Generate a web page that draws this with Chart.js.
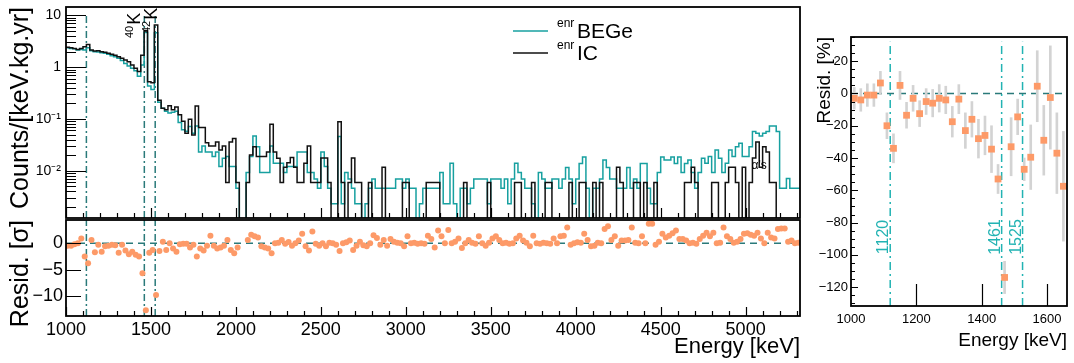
<!DOCTYPE html>
<html>
<head>
<meta charset="utf-8">
<title>enrBEGe vs enrIC spectra</title>
<script src="https://cdn.jsdelivr.net/npm/chart.js@4.4.1/dist/chart.umd.min.js"></script>
<style>
  body { margin: 0; background: #fff; }
  #wrap { position: relative; width: 1074px; height: 363px; overflow: hidden; }
  canvas { position: absolute; }
</style>
</head>
<body>
<div id="wrap">
  <canvas id="spectrum" width="806" height="219" style="left:0;top:0"></canvas>
  <canvas id="sigma" width="806" height="144" style="left:0;top:219px"></canvas>
  <canvas id="percent" width="269" height="363" style="left:805px;top:0"></canvas>
</div>
<script>
// binning of the spectra (keV)
const binStart = 1000;
const binWidth = 20;

// counts/(keV kg yr) per 20 keV bin, 1000-5320 keV
const icCounts = [
  2.41, 2.37, 2.30, 2.20, 2.30, 2.48, 2.75, 2.14, 2.05, 2.08,
  1.99, 1.93, 1.85, 1.77, 1.69, 1.59, 1.48, 1.37, 1.27, 1.10,
  0.95, 0.82, 1.70, 5.05, 0.52, 0.50, 6.5, 0.23, 0.16, 0.15,
  0.18, 0.15, 0.17, 0.12, 0.09, 0.053, 0.098, 0.049, 0.177, 0.068,
  0.068, 0.0345, 0.030, 0.030, 0.036, 0.025, 0.030, 0.0059, 0.036, 0.042,
  0.0059, 0, 0, 0.0059, 0.020, 0.029, 0.0187, 0.0187, 0.0187, 0.023,
  0.0785, 0.023, 0.0173, 0.0059, 0.0117, 0.0143, 0.018, 0.0117, 0.0059, 0.0059,
  0.0139, 0.030, 0.0059, 0.0059, 0.0059, 0.0176, 0.0176, 0.0059, 0, 0,
  0.088, 0.0059, 0, 0.0059, 0.0176, 0.0059, 0.0059, 0, 0, 0.0059,
  0, 0, 0, 0.0117, 0, 0, 0, 0, 0, 0.0059,
  0.0059, 0, 0, 0, 0, 0, 0.0059, 0.0059, 0.0059, 0.0059,
  0, 0, 0, 0, 0, 0, 0, 0.0059, 0, 0,
  0, 0, 0, 0, 0.0059, 0, 0, 0, 0, 0,
  0, 0, 0.0059, 0.0059, 0, 0, 0, 0.0059, 0, 0,
  0, 0.0059, 0.0059, 0, 0, 0, 0, 0, 0.0059, 0,
  0, 0.0059, 0.0059, 0, 0, 0.0059, 0, 0.0059, 0, 0,
  0, 0, 0.0117, 0.0059, 0, 0, 0, 0.0059, 0.0059, 0,
  0.0059, 0, 0, 0.0059, 0, 0, 0, 0, 0, 0,
  0, 0, 0.0059, 0.0059, 0.0117, 0.0059, 0, 0, 0, 0,
  0.0059, 0.0059, 0, 0, 0.0059, 0.0117, 0.0117, 0.0059, 0, 0.0117,
  0, 0.0059, 0.0176, 0.036, 0.0117, 0.029, 0.023, 0.0059, 0.0059, 0,
  0, 0, 0, 0, 0, 0
];

const begeCounts = [
  2.37, 2.30, 2.27, 2.14, 2.20, 2.14, 2.37, 2.08, 1.99, 1.96,
  1.90, 1.85, 1.77, 1.66, 1.59, 1.48, 1.35, 1.18, 1.05, 0.95,
  0.85, 0.67, 1.10, 4.69, 0.43, 0.37, 4.6, 0.21, 0.16, 0.14,
  0.13, 0.135, 0.14, 0.085, 0.062, 0.058, 0.071, 0.053, 0.073, 0.023,
  0.030, 0.023, 0.023, 0.0187, 0.023, 0.012, 0.0173, 0.0187, 0.012, 0.012,
  0.0046, 0, 0, 0.0092, 0.0187, 0.047, 0.029, 0.0092, 0.0092, 0.0092,
  0.030, 0.0139, 0.0139, 0.0139, 0.0092, 0.012, 0.012, 0.012, 0.023, 0.023,
  0.023, 0.0092, 0.0092, 0.0069, 0.0046, 0.023, 0.012, 0.0046, 0.0023, 0.0023,
  0.046, 0.0023, 0.0092, 0.0069, 0.0046, 0.0023, 0.0023, 0, 0.0023, 0.0046,
  0.0069, 0.0046, 0.0046, 0.0046, 0.0046, 0.0046, 0.0046, 0.0069, 0.0069, 0.0046,
  0.0069, 0.0046, 0.0046, 0, 0.0023, 0.0046, 0.0046, 0.0046, 0.0046, 0.0046,
  0.0092, 0.0023, 0.0023, 0.0139, 0.0023, 0, 0.0046, 0.0046, 0.0023, 0.0046,
  0.0069, 0.0069, 0.0069, 0.0069, 0.0023, 0.0069, 0.0069, 0.0069, 0.0046, 0.0069,
  0.0023, 0.0069, 0.0139, 0.0092, 0.0069, 0.0046, 0.0046, 0.0023, 0, 0.0092,
  0.0069, 0.0046, 0.0046, 0.0069, 0.0069, 0.0046, 0.0069, 0.0115, 0.0069, 0.0023,
  0.0069, 0.0138, 0.0184, 0.0046, 0, 0.0046, 0.0046, 0.0069, 0.016, 0.0115,
  0.0069, 0.0069, 0.0046, 0.0046, 0.0046, 0.0115, 0.0046, 0.0069, 0.0046, 0.0138,
  0.0138, 0.0046, 0.0023, 0.0023, 0.0092, 0.0184, 0.016, 0.016, 0.0184, 0.0138,
  0.0184, 0.0092, 0.0138, 0.016, 0.0092, 0.0046, 0.0092, 0.0173, 0.0139, 0.0187,
  0.0092, 0.025, 0.0173, 0.0092, 0.0139, 0.025, 0.0187, 0.029, 0.034, 0.0187,
  0.0187, 0.029, 0.057, 0.053, 0.047, 0.053, 0.057, 0.073, 0.073, 0.057,
  0.0046, 0.0046, 0.0071, 0.0046, 0.0046, 0.0046
];

// residuals in sigma, one per bin (null = empty bin)
const residSigma = [
  -0.5, -0.5, -0.2, 0, 0.9, -2.5, -3.8, 0.6, -1.7, -0.3,
  -1.6, -0.6, -0.5, -0.3, -0.4, -1.8, -0.3, -1.4, -2.1, -1.6,
  -2.2, -2.5, -5.7, -12.7, -1.8, -1.3, -9.8, -1.5, 0.3, -1.3,
  0, -1.0, -1.6, -0.2, -0.1, -0.1, -0.8, -0.3, -2.5, -1.0,
  -1.4, -0.5, 1.4, -0.5, -1.0, -0.8, -0.5, 0.6, -1.3, -1.9,
  -0.8, null, null, 0.6, 1.6, 1.3, 1.1, -0.6, -0.8, -1.0,
  -1.9, 0, 0.1, 0.6, -0.1, 0.25, -0.5, 0, 0.5, 1.8,
  -0.6, -1.4, 2.2, -0.1, -0.5, 0, -0.6, 0.1, 0, -0.3,
  -1.5, 0, 0.2, 0.5, -1.3, -0.5, 0.3, -0.4, -0.6, 0,
  1.5, 1.0, -0.3, 0.6, -0.5, 0.8, 0.3, 0.1, 0, -0.6,
  1.3, 0, 0.1, -0.1, 0, -0.1, 1.4, 0.8, -0.8, 2.4,
  1.3, 0, 2.5, 0, 0.3, 0.9, -0.9, 0, 0.6, 0.1,
  -0.1, 1.3, 0, -0.5, 0.1, 0.9, 1.3, 0.6, 0, 0.1,
  -0.1, 0, 0.9, 1.4, 0.5, 0.1, -0.6, 1.4, 0, -0.1,
  0.1, 0, -0.1, 0.9, 0, 1.3, 1.4, 3.0, -0.3, 0,
  0.2, 0.1, 1.8, 0.6, -0.6, -0.5, 0.1, 0, 2.7, 3.2,
  0.6, 1.3, -0.5, 0.5, 0.5, 0.6, 3.0, 0.1, 0, 1.3,
  0, 3.7, 3.7, -0.3, 0.3, 1.8, 1.1, 1.4, 1.9, 2.4,
  0.8, 0.8, 0.5, 0, 0.1, -0.1, 0.8, 1.4, 2.0, 1.3,
  2.0, 0, 0.1, 3.0, 1.3, 0.8, 0.1, 0.3, 0.8, 1.8,
  1.9, 1.6, 1.4, 2.0, 0.9, 0, 2.0, 1.1, 0.9, 2.7,
  2.8, 2.8, 0.3, 0.5, 0, 0.1
];

// gamma lines marked on the plots (keV)
const lineEnergies = [1120, 1461, 1525];

// zoomed residuals in percent
const pctEnergy = [1010, 1030, 1050, 1070, 1090, 1110, 1130, 1150, 1170, 1190, 1210,
  1230, 1250, 1270, 1290, 1310, 1330, 1350, 1370, 1390, 1410, 1430, 1450, 1470,
  1490, 1510, 1530, 1550, 1570, 1590, 1610, 1630, 1650];
const pctResid = [-3, -4, -1, -1, 6.5, -20, -34, 5, -13.5, -3, -12.5,
  -5, -6, -3, -4, -17.5, -3.5, -23, -16, -28, -26, -34.5, -53, -114,
  -33, -14.5, -47, -39.5, 4.5, -29, -2.5, -37, -57.5];
const pctErr = [6.7, 7, 7, 7, 7.2, 8, 9, 8.7, 8, 8, 8,
  8, 8.5, 8.5, 8.5, 9.5, 9, 11, 11, 12, 12, 14.5, 9, 10,
  18, 11, 7, 20, 22, 21.6, 32, 25, 34];

// tick labels
const energyTicks = [1000, 1500, 2000, 2500, 3000, 3500, 4000, 4500, 5000];
const countTicks = [0.01, 0.1, 1, 10];
const sigmaTicks = [-10, -5, 0];
const zoomEnergyTicks = [1000, 1200, 1400, 1600];
const pctTicks = [-120, -100, -80, -60, -40, -20, 0, 20];

const TEAL = '#17a0a0';
const DARK_TEAL = '#2a7a7a';
const LIGHT_TEAL = '#22b3b3';
const SALMON = '#fd9a68';
const FONT = '"Liberation Sans", Arial, Helvetica, sans-serif';
const LOG_MIN = 0.00122, LOG_MAX = 14.5;
const E_MIN = 1000, E_MAX = 5320;

Chart.defaults.font.family = FONT;
Chart.defaults.color = '#000';
Chart.defaults.animation = false;
Chart.defaults.events = [];

// histogram outline: left bin edges + closing right edge, empty bins sit at the frame bottom
function histPoints(vals) {
  const pts = vals.map((v, i) => ({ x: binStart + i * binWidth, y: v > 0 ? v : 1e-5 }));
  pts.push({ x: binStart + vals.length * binWidth, y: pts[pts.length - 1].y });
  return pts;
}

function axisTicks(from, to, step, majorEvery, majorLen, minorLen) {
  const out = [];
  for (let v = from; v <= to; v += step) {
    out.push({ v, len: v % majorEvery === 0 ? majorLen : minorLen });
  }
  return out;
}

function logTicks(min, max) {
  const out = [];
  for (let d = -3; d <= 1; d++) {
    for (let m = 1; m < 10; m++) {
      const v = m * Math.pow(10, d);
      if (v >= min && v <= max) out.push({ v, len: m === 1 ? 20 : 10 });
    }
  }
  return out;
}

// ROOT style: ticks inside the frame
const frameTicks = {
  spectrum: { x: axisTicks(1000, 5300, 100, 500, 10, 5), y: logTicks(LOG_MIN, LOG_MAX) },
  sigma: { x: axisTicks(1000, 5300, 100, 500, 9, 5), y: axisTicks(-10, 0, 5, 5, 15, 15) },
  percent: { x: axisTicks(1200, 1600, 200, 200, 22, 22), y: axisTicks(-130, 35, 5, 20, 7, 4) }
};

const rootFrame = {
  id: 'rootFrame',
  afterDatasetsDraw(chart) {
    const { ctx, chartArea: a } = chart;
    const xs = chart.scales.x, ys = chart.scales.y;
    const t = frameTicks[chart.canvas.id];
    ctx.save();
    ctx.strokeStyle = '#000';
    ctx.lineWidth = 1.2;
    ctx.beginPath();
    t.x.forEach(k => {
      const p = Math.round(xs.getPixelForValue(k.v)) + 0.5;
      ctx.moveTo(p, a.bottom); ctx.lineTo(p, a.bottom - k.len);
    });
    t.y.forEach(k => {
      const p = Math.round(ys.getPixelForValue(k.v)) + 0.5;
      ctx.moveTo(a.left, p); ctx.lineTo(a.left + k.len, p);
    });
    ctx.stroke();
    ctx.lineWidth = 1.8;
    ctx.strokeRect(a.left, a.top, a.right - a.left, a.bottom - a.top);
    ctx.restore();
  }
};

function fixWidth(w) {
  return s => { s.width = w; s.paddingTop = 0; s.paddingBottom = 0; };
}
function fixHeight(h) {
  return s => { s.height = h; s.paddingLeft = 0; s.paddingRight = 0; };
}
function useTicks(values) {
  return s => { s.ticks = values.map(v => ({ value: v })); };
}
function minusSign(v) { return String(v).replace('-', '\u2212'); }

function vLine(e, y0, y1, color, dash) {
  return {
    type: 'line', data: [{ x: e, y: y0 }, { x: e, y: y1 }],
    borderColor: color, borderWidth: 1.5, borderDash: dash, pointRadius: 0
  };
}

// ---------- top: spectra ----------
function drawIsotope(ctx, px, py, mass, sym) {
  ctx.save();
  ctx.translate(px, py);
  ctx.rotate(-Math.PI / 2);
  ctx.fillStyle = '#000';
  ctx.textAlign = 'left';
  ctx.textBaseline = 'alphabetic';
  ctx.font = '11px ' + FONT;
  ctx.fillText(mass, 0, -7);
  const w = ctx.measureText(mass).width;
  ctx.font = '18px ' + FONT;
  ctx.fillText(sym, w + 1, 0);
  ctx.restore();
}

const spectrumNotes = {
  id: 'spectrumNotes',
  afterDatasetsDraw(chart) {
    const { ctx } = chart;
    const xs = chart.scales.x;
    drawIsotope(ctx, xs.getPixelForValue(1435), 38, '40', 'K');
    drawIsotope(ctx, xs.getPixelForValue(1535), 33, '42', 'K');

    ctx.save();
    ctx.fillStyle = '#000';
    ctx.font = '12px ' + FONT;
    ctx.textBaseline = 'middle';
    ctx.fillText('\u03b1\'s', xs.getPixelForValue(5035), 166);

    // legend
    const rows = [{ name: 'BEGe', color: TEAL, y: 31 }, { name: 'IC', color: '#111', y: 53 }];
    rows.forEach(r => {
      ctx.strokeStyle = r.color;
      ctx.lineWidth = 1.6;
      ctx.beginPath(); ctx.moveTo(513, r.y); ctx.lineTo(548, r.y); ctx.stroke();
      ctx.textBaseline = 'alphabetic';
      ctx.font = '12px ' + FONT;
      ctx.fillText('enr', 557, r.y - 4);
      ctx.font = '21px ' + FONT;
      ctx.fillText(r.name, 577, r.y + 7);
    });
    ctx.restore();
  }
};

const supDigits = { '-': '\u207b', '1': '\u00b9', '2': '\u00b2', '3': '\u00b3' };

new Chart(document.getElementById('spectrum'), {
  type: 'line',
  data: {
    datasets: [
      { label: 'enrIC', data: histPoints(icCounts), borderColor: '#111', borderWidth: 1.5, stepped: 'before', pointRadius: 0 },
      { label: 'enrBEGe', data: histPoints(begeCounts), borderColor: TEAL, borderWidth: 1.5, stepped: 'before', pointRadius: 0 },
      ...lineEnergies.map(e => vLine(e, LOG_MIN, 10, DARK_TEAL, [7, 3, 2, 3]))
    ]
  },
  options: {
    responsive: false,
    layout: { padding: { top: 7, right: 6, bottom: 1, left: 0 }, autoPadding: false },
    plugins: { legend: { display: false }, tooltip: { enabled: false } },
    scales: {
      x: { type: 'linear', min: E_MIN, max: E_MAX, display: false },
      y: {
        type: 'logarithmic', min: LOG_MIN, max: LOG_MAX,
        afterBuildTicks: useTicks(countTicks),
        afterFit: fixWidth(66),
        border: { display: false },
        grid: { display: false, drawTicks: false },
        ticks: {
          padding: 5, font: { size: 14 }, autoSkip: false,
          callback: v => {
            const k = Math.round(Math.log10(v));
            if (k === 0) return '1';
            if (k === 1) return '10';
            return '10' + String(k).split('').map(c => supDigits[c]).join('');
          }
        },
        title: { display: true, text: 'Counts/[keV.kg.yr]', align: 'end', font: { size: 25 }, padding: { top: 6, bottom: 0 } }
      }
    }
  },
  plugins: [rootFrame, spectrumNotes]
});

// ---------- bottom: residuals in sigma ----------
new Chart(document.getElementById('sigma'), {
  type: 'line',
  data: {
    datasets: [
      {
        type: 'scatter', label: 'Resid.',
        data: residSigma.map((r, i) => ({ x: binStart + (i + 0.5) * binWidth, y: r })).filter(p => p.y !== null),
        backgroundColor: SALMON, borderWidth: 0, pointRadius: 3, order: 0
      },
      { data: [{ x: E_MIN, y: 0 }, { x: E_MAX, y: 0 }], borderColor: DARK_TEAL, borderWidth: 1.5, borderDash: [7, 5], pointRadius: 0, order: 1 },
      ...lineEnergies.map(e => Object.assign(vLine(e, -13.8, 4.4, DARK_TEAL, [7, 3, 2, 3]), { order: 1 }))
    ]
  },
  options: {
    responsive: false,
    layout: { padding: { top: 1, right: 6, bottom: 0, left: 0 }, autoPadding: false },
    plugins: { legend: { display: false }, tooltip: { enabled: false } },
    scales: {
      x: {
        type: 'linear', min: E_MIN, max: E_MAX,
        afterBuildTicks: useTicks(energyTicks),
        afterFit: fixHeight(47),
        border: { display: false },
        grid: { display: false, drawTicks: false },
        ticks: { padding: 3, font: { size: 18 }, maxRotation: 0, autoSkip: false,
          callback: v => String(v) },
        title: { display: true, text: 'Energy [keV]', align: 'end', font: { size: 22 }, padding: { top: 0, bottom: 3 } }
      },
      y: {
        type: 'linear', min: -13.8, max: 4.4,
        afterBuildTicks: useTicks(sigmaTicks),
        afterFit: fixWidth(66),
        border: { display: false },
        grid: { display: false, drawTicks: false },
        ticks: { padding: 3, font: { size: 18 }, autoSkip: false, callback: v => minusSign(v) },
        title: { display: true, text: 'Resid. [\u03c3]', align: 'end', font: { size: 25 }, padding: { top: 6, bottom: 0 } }
      }
    }
  },
  plugins: [rootFrame]
});

// ---------- right: residuals in percent ----------
const percentNotes = {
  id: 'percentNotes',
  afterDatasetsDraw(chart) {
    const { ctx } = chart;
    const xs = chart.scales.x;
    ctx.save();
    ctx.fillStyle = LIGHT_TEAL;
    ctx.font = '16px ' + FONT;
    ctx.textAlign = 'center';
    ctx.textBaseline = 'alphabetic';
    lineEnergies.forEach(e => {
      ctx.save();
      ctx.translate(xs.getPixelForValue(e) - 2, 237);
      ctx.rotate(-Math.PI / 2);
      ctx.fillText(String(e), 0, 0);
      ctx.restore();
    });
    ctx.restore();
  }
};

new Chart(document.getElementById('percent'), {
  type: 'line',
  data: {
    datasets: [
      {
        type: 'scatter', label: 'Resid. [%]',
        data: pctEnergy.map((e, i) => ({ x: e, y: pctResid[i] })),
        backgroundColor: SALMON, borderWidth: 0, pointStyle: 'rect', pointRadius: 4.8, order: 0
      },
      {
        type: 'bar', label: 'error',
        data: pctEnergy.map((e, i) => ({ x: e, y: [pctResid[i] - pctErr[i], pctResid[i] + pctErr[i]] })),
        backgroundColor: '#d3d3d3', barThickness: 2, grouped: false, order: 1
      },
      { data: [{ x: 1000, y: 0 }, { x: 1661, y: 0 }], borderColor: DARK_TEAL, borderWidth: 1.5, borderDash: [7, 5], pointRadius: 0, order: 2 },
      ...lineEnergies.map(e => Object.assign(vLine(e, -131.7, 32, LIGHT_TEAL, [8, 4, 2, 4]), { order: 2 }))
    ]
  },
  options: {
    responsive: false,
    layout: { padding: { top: 37, right: 7, bottom: 0, left: 0 }, autoPadding: false },
    plugins: { legend: { display: false }, tooltip: { enabled: false } },
    scales: {
      x: {
        type: 'linear', min: 1000, max: 1661, offset: false,
        afterBuildTicks: useTicks(zoomEnergyTicks),
        afterFit: fixHeight(57),
        border: { display: false },
        grid: { display: false, drawTicks: false },
        ticks: { padding: 6, font: { size: 13 }, maxRotation: 0, autoSkip: false, callback: v => String(v) },
        title: { display: true, text: 'Energy [keV]', align: 'end', font: { size: 19 }, padding: { top: 0, bottom: 11 } }
      },
      y: {
        type: 'linear', min: -131.7, max: 35,
        afterBuildTicks: useTicks(pctTicks),
        afterFit: fixWidth(46),
        border: { display: false },
        grid: { display: false, drawTicks: false },
        ticks: { padding: 3, font: { size: 13 }, autoSkip: false, callback: v => minusSign(v) },
        title: { display: true, text: 'Resid. [%]', align: 'end', font: { size: 19 }, padding: { top: 8, bottom: 0 } }
      }
    }
  },
  plugins: [rootFrame, percentNotes]
});
</script>
</body>
</html>
